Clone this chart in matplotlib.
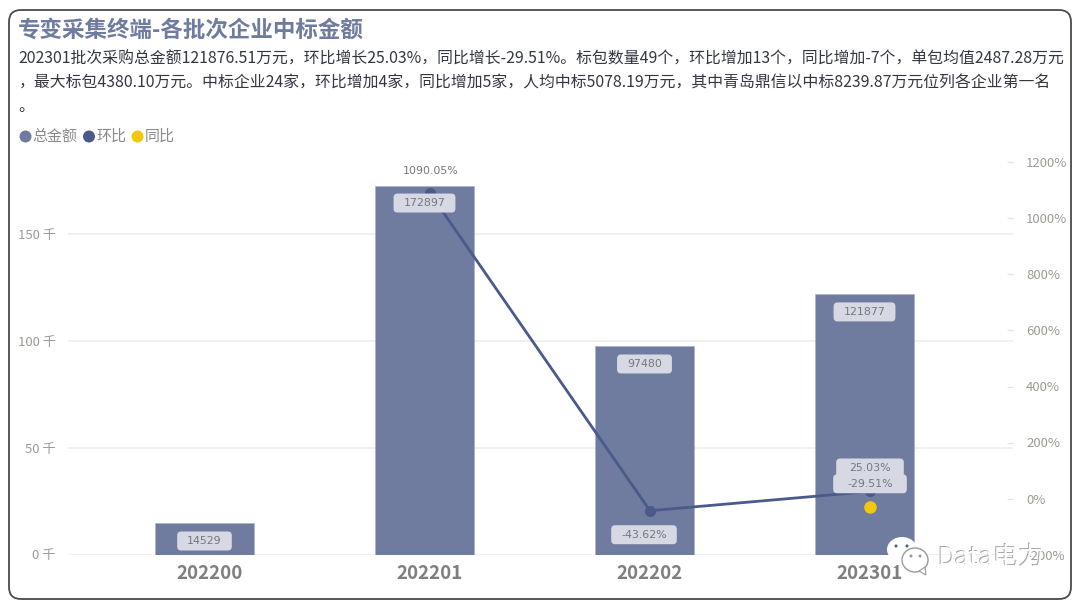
import matplotlib
matplotlib.use('Agg')
import matplotlib.pyplot as plt
from matplotlib.patches import FancyBboxPatch, Ellipse, Polygon

plt.rcParams['font.family'] = ['Noto Sans CJK SC', 'DejaVu Sans']

categories = ['202200', '202201', '202202', '202301']
totals = [14529, 172897, 97480, 121877]
hb_cats = [1, 2, 3]
hb_values = [1090.05, -43.62, 25.03]
hb_labels = ['1090.05%', '-43.62%', '25.03%']
tb_cats = [3]
tb_values = [-29.51]
tb_labels = ['-29.51%']
left_ticks = [0, 50000, 100000, 150000]
left_labels = ['0 千', '50 千', '100 千', '150 千']
right_ticks = [-200, 0, 200, 400, 600, 800, 1000, 1200]
title = '专变采集终端-各批次企业中标金额'
body = ['202301批次采购总金额121876.51万元，环比增长25.03%，同比增长-29.51%。标包数量49个，环比增加13个，同比增加-7个，单包均值2487.28万元',
        '，最大标包4380.10万元。中标企业24家，环比增加4家，同比增加5家，人均中标5078.19万元，其中青岛鼎信以中标8239.87万元位列各企业第一名',
        '。']

W, H = 1080, 605
BAR = '#6f7b9f'; LINE = '#4a5a8a'; YEL = '#f2c80f'; GREY = '#8a8a8a'; TICK = '#a09a92'
fig = plt.figure(figsize=(W/100, H/100), dpi=100)

def fx(p): return p/W
def fy(p): return 1-p/H

bg = fig.add_axes([0, 0, 1, 1]); bg.set_xlim(0, W); bg.set_ylim(H, 0); bg.axis('off')
bg.add_patch(FancyBboxPatch((9, 10), 1062, 589, boxstyle='round,pad=0,rounding_size=12',
                            fc='white', ec='#4a4a4a', lw=1.3))
bg.text(18, 30, title, fontsize=16.2, fontweight='bold', color=BAR, va='center')
for t, y in zip(body, [59.5, 83, 106]):
    bg.text(18.5, y, t, fontsize=11.4, color='#333742', va='center')
for name, col, tx in [('总金额', BAR, 32.5), ('环比', LINE, 96), ('同比', YEL, 144.5)]:
    bg.add_patch(Ellipse((tx-7, 136.5), 12, 12, fc=col, ec='none'))
    bg.text(tx, 136.5, name, fontsize=10.8, color=GREY, va='center')

# plot area in pixels
L, R, T, B = 68, 1013, 155, 554.5
STEP, C0 = 220, 210
bar_shift = -5.5/STEP
ax = fig.add_axes([fx(L), fy(B), fx(R-L), (B-T)/H])
ax.patch.set_alpha(0)
ax.set_xlim((L-C0)/STEP, (R-C0)/STEP)
ax.set_ylim(0, (B-T)/106.7*50000)
ax.bar([i+bar_shift for i in range(4)], totals, width=0.448, color=BAR, ec='#aab2c8', lw=0.5, zorder=2)
ax.grid(axis='y', color='#eeeeee', lw=1.2, zorder=0)
ax.set_axisbelow(True)
for s in ax.spines.values(): s.set_visible(False)
ax.set_yticks(left_ticks, left_labels, fontsize=9.5, color=TICK)
ax.set_xticks(range(4), categories, fontsize=13.5, fontweight='bold', color='#7f7f7f')
ax.tick_params(axis='both', length=0)
ax.tick_params(axis='y', pad=8.8)
ax.tick_params(axis='x', pad=6.5)

ax2 = fig.add_axes(ax.get_position(), sharex=ax)
ax2.patch.set_alpha(0)
ax2.set_ylim(-200, -200+(B-T)/0.28)
ax2.yaxis.tick_right()
ax2.set_yticks(right_ticks, [f'{v}%' for v in right_ticks], fontsize=9.5, color=TICK)
ax2.tick_params(axis='y', length=4.4, width=1, color='#e6e6e6', pad=9.5, direction='in')
ax2.tick_params(axis='x', length=0, labelbottom=False)
for s in ax2.spines.values(): s.set_visible(False)
ax2.plot(hb_cats, hb_values, color=LINE, lw=2, marker='o', ms=7, zorder=3)
ax2.plot(tb_cats, tb_values, ls='none', color=YEL, marker='o', ms=8, zorder=3)

# data labels with rounded plates, in a layer above the marks
top = fig.add_axes([0, 0, 1, 1]); top.set_xlim(0, W); top.set_ylim(H, 0); top.axis('off')
top.patch.set_alpha(0)
renderer = fig.canvas.get_renderer()
order = [3]

def label(text, x, y, trans, dx, dy, padx=10, plate=True):
    order[0] += 2
    t = top.annotate(text, (x, y), xycoords=trans, xytext=(dx*0.72, dy*0.72), textcoords='offset points',
                     fontsize=7.9, family=['DejaVu Sans'], color='#77777c', ha='center', va='center',
                     zorder=order[0]+1)
    if plate:
        e = t.get_window_extent(renderer)
        cy = (e.y0+e.y1)/2
        top.add_patch(FancyBboxPatch((e.x0-padx, cy-9.5), e.width+2*padx, 19,
                                     boxstyle='round,pad=0,rounding_size=4', fc='#d6d9e3', ec='none',
                                     transform=None, zorder=order[0], clip_on=False))

for i, v in enumerate(totals):
    label(str(v), i+bar_shift, v, ax.transData, 0, -17.5)
label(hb_labels[0], hb_cats[0], hb_values[0], ax2.transData, 1, 22, plate=False)
label(hb_labels[1], hb_cats[1], hb_values[1], ax2.transData, -6, -24)
label(hb_labels[2], hb_cats[2], hb_values[2], ax2.transData, 0, 23.5, padx=13)
label(tb_labels[0], tb_cats[0], tb_values[0], ax2.transData, 0, 23, padx=14)

# watermark
wm = fig.add_axes([0, 0, 1, 1]); wm.set_xlim(0, W); wm.set_ylim(H, 0); wm.axis('off')
wm.patch.set_alpha(0)
wm.add_patch(Ellipse((902, 549.5), 30, 25, fc='white', ec='none', zorder=5))
wm.add_patch(Polygon([[893, 558], [892, 569], [902, 561]], fc='white', ec='none', zorder=5))
wm.add_patch(Ellipse((915, 560), 26, 24, fc='white', ec='#9a9a9a', lw=1, zorder=6))
wm.add_patch(Polygon([[919, 571], [926, 575], [925, 567]], fc='white', ec='#9a9a9a', lw=0.8, zorder=6))
for x, y, c in [(896, 546, LINE), (907, 546, LINE), (911, 556, '#999999'), (920, 556, '#999999')]:
    wm.add_patch(Ellipse((x, y), 3, 3, fc=c, ec='none', zorder=7))
wm.text(936.5, 557, 'Data电力', fontsize=18.4, color='#a8a8a8', va='center', zorder=7)
wm.text(937.5, 558, 'Data电力', fontsize=18.4, color='white', va='center', zorder=8)

fig.savefig('out.png', dpi=100)
